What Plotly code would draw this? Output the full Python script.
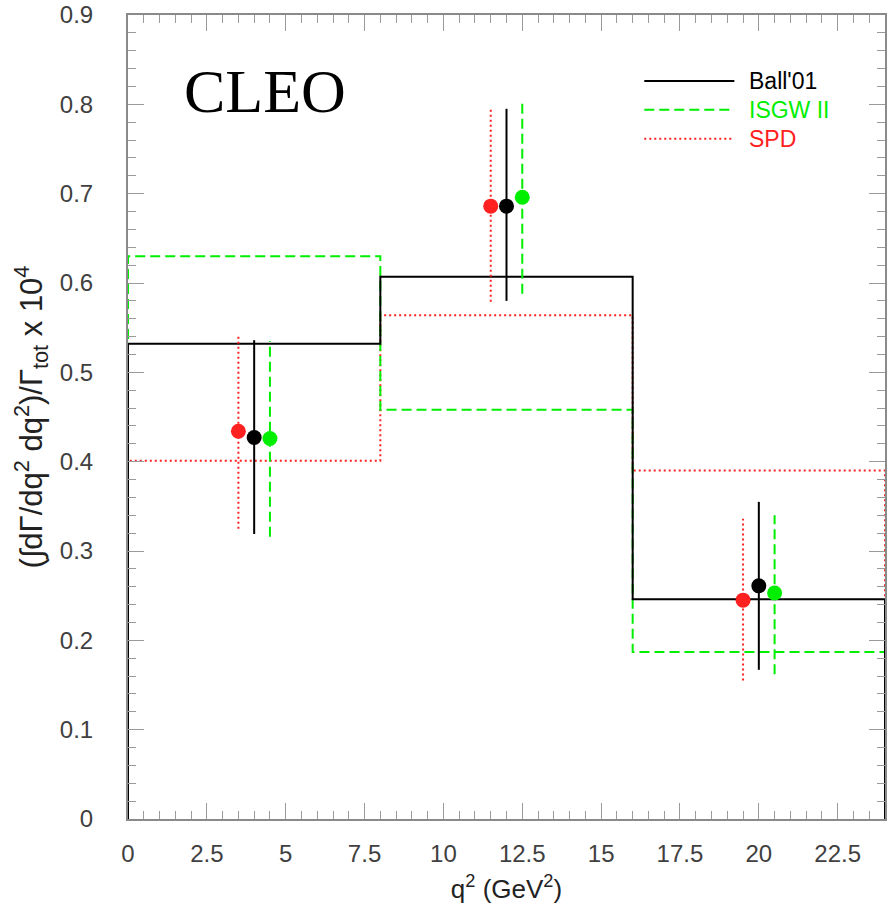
import plotly.graph_objects as go

# ---- data ----
bin_edges = [0, 8, 16, 24]
ball_hist = [0.532, 0.607, 0.246]
isgw_hist = [0.630, 0.458, 0.187]
spd_hist = [0.401, 0.564, 0.390]

spd_x = [3.5, 11.5, 19.5]
spd_y = [0.434, 0.686, 0.245]
spd_hi = [0.540, 0.794, 0.336]
spd_lo = [0.325, 0.579, 0.155]

ball_x = [4.0, 12.0, 20.0]
ball_y = [0.427, 0.686, 0.261]
ball_hi = [0.536, 0.795, 0.355]
ball_lo = [0.319, 0.580, 0.167]

isgw_x = [4.5, 12.5, 20.5]
isgw_y = [0.426, 0.696, 0.253]
isgw_hi = [0.535, 0.805, 0.340]
isgw_lo = [0.316, 0.588, 0.162]

x_ticks = [0, 2.5, 5, 7.5, 10, 12.5, 15, 17.5, 20, 22.5]
x_ticktext = ["0", "2.5", "5", "7.5", "10", "12.5", "15", "17.5", "20", "22.5"]
y_ticks = [0, 0.1, 0.2, 0.3, 0.4, 0.5, 0.6, 0.7, 0.8, 0.9]
y_ticktext = ["0", "0.1", "0.2", "0.3", "0.4", "0.5", "0.6", "0.7", "0.8", "0.9"]

models = ["Ball'01", "ISGW II", "SPD"]

BLACK = "#000000"
GREEN = "#00ee00"
RED = "#ff2020"
GREEN_DASH = "10px,5px"
RED_DOT = "2px,3px"
SANS = "Liberation Sans, Arial, sans-serif"


def step_xy(edges, vals):
    xs, ys = [edges[0]], [0]
    for i, v in enumerate(vals):
        xs += [edges[i], edges[i + 1]]
        ys += [v, v]
    xs.append(edges[-1])
    ys.append(0)
    return xs, ys


def err_xy(xs, lo, hi):
    ex, ey = [], []
    for x, l, h in zip(xs, lo, hi):
        ex += [x, x, None]
        ey += [l, h, None]
    return ex, ey


fig = go.Figure()

# histograms
for vals, col, dash in [(spd_hist, RED, RED_DOT), (isgw_hist, GREEN, GREEN_DASH), (ball_hist, BLACK, "solid")]:
    hx, hy = step_xy(bin_edges, vals)
    fig.add_trace(go.Scatter(x=hx, y=hy, mode="lines", line=dict(color=col, width=2, dash=dash),
                             showlegend=False, hoverinfo="skip", cliponaxis=False))

# error bars
for xs, lo, hi, col, dash in [(spd_x, spd_lo, spd_hi, RED, RED_DOT),
                              (ball_x, ball_lo, ball_hi, BLACK, "solid"),
                              (isgw_x, isgw_lo, isgw_hi, GREEN, GREEN_DASH)]:
    ex, ey = err_xy(xs, lo, hi)
    fig.add_trace(go.Scatter(x=ex, y=ey, mode="lines", line=dict(color=col, width=2, dash=dash),
                             showlegend=False, hoverinfo="skip"))

# points
for xs, ys, col in [(spd_x, spd_y, RED), (ball_x, ball_y, BLACK), (isgw_x, isgw_y, GREEN)]:
    fig.add_trace(go.Scatter(x=xs, y=ys, mode="markers", marker=dict(color=col, size=15, line=dict(width=0)),
                             showlegend=False))

# custom legend
legend_y = [0.918, 0.882, 0.846]
legend_cols = [BLACK, GREEN, RED]
legend_dash = ["solid", GREEN_DASH, RED_DOT]
for name, ly, col, dash in zip(models, legend_y, legend_cols, legend_dash):
    fig.add_shape(type="line", xref="paper", yref="paper", x0=0.682, x1=0.801, y0=ly, y1=ly,
                  line=dict(color=col, width=2, dash=dash))
    fig.add_annotation(xref="paper", yref="paper", x=0.818, y=ly, text=name, showarrow=False,
                       xanchor="left", yanchor="middle",
                       font=dict(family=SANS, size=23, color=col))

fig.add_annotation(x=4.35, y=0.815, xref="x", yref="y", text="CLEO", showarrow=False,
                   font=dict(family="Liberation Serif, Times New Roman, serif", size=62, color="black"))

axis_common = dict(showgrid=False, zeroline=False, showline=True, linecolor="#8a8a8a", linewidth=2,
                   mirror="ticks", ticks="inside", tickcolor="#9a9a9a", tickwidth=1,
                   automargin=False,
                   tickfont=dict(family=SANS, size=24, color="#404040"))

fig.update_layout(
    width=893, height=908,
    margin=dict(l=128, r=8, t=15, b=89),
    paper_bgcolor="white", plot_bgcolor="white",
    showlegend=False,
    xaxis=dict(range=[0, 24], tickvals=x_ticks, ticktext=x_ticktext, ticklen=16,
               ticklabelstandoff=12,
               minor=dict(dtick=0.5, ticklen=8, ticks="inside", tickcolor="#9a9a9a", showgrid=False),
               title=dict(text="q<sup>2</sup> (GeV<sup>2</sup>)", standoff=14,
                          font=dict(family=SANS, size=26, color="#222222")),
               **axis_common),
    yaxis=dict(range=[0, 0.9], tickvals=y_ticks, ticktext=y_ticktext, ticklen=16,
               ticklabelstandoff=28,
               minor=dict(dtick=0.02, ticklen=8, ticks="inside", tickcolor="#9a9a9a", showgrid=False),
               title=dict(text="(∫dΓ/dq<sup>2</sup> dq<sup>2</sup>)/Γ<sub>tot</sub> x 10<sup>4</sup>", standoff=8,
                          font=dict(family=SANS, size=31, color="#222222")),
               **axis_common),
)

fig.write_html("out.html")
